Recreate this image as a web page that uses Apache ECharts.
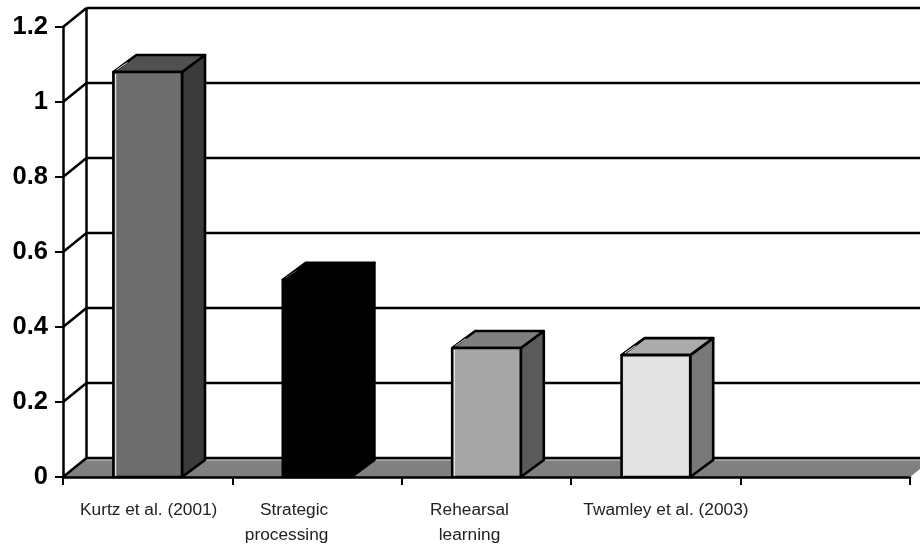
<!DOCTYPE html>
<html><head><meta charset="utf-8">
<style>html,body{margin:0;padding:0;background:#fff}#c{width:920px;height:545px}</style>
<script src="https://cdn.jsdelivr.net/npm/echarts@6/dist/echarts.min.js"></script>
</head><body><div id="c"></div>
<script>
var categories = ['Kurtz et al. (2001)', 'Strategic\nprocessing', 'Rehearsal\nlearning', 'Twamley et al. (2003)', ''];
var values = [1.08, 0.526, 0.344, 0.325, null];
var yTicks = [0, 0.2, 0.4, 0.6, 0.8, 1, 1.2];
var frontColors = ['#6e6e6e', '#000000', '#a6a6a6', '#e3e3e3', '#000'];
var topColors = ['#505050', '#000000', '#7f7f7f', '#ababab', '#000'];
var sideColors = ['#3b3b3b', '#000000', '#5a5a5a', '#787878', '#000'];
var labelPads = [[0,0,0,2], [0,46,0,0], [0,34,0,0], [0,0,0,20], [0,0,0,0]];

var WALL_DX = 23.5, WALL_DY = -19, BAR_DX = 23, BAR_DY = -17, BAR_FRAC = 0.405;
var stroke = {stroke:'#000', lineWidth:2.5, fill:null};

function renderWall(params, api) {
  var v = api.value(1), cs = params.coordSys;
  var y = api.coord([0, v])[1];
  var x0 = cs.x, x1 = cs.x + cs.width, kids = [];
  if (v === 0) {
    kids.push({type:'polygon', shape:{points:[[x0,y],[x1,y],[x1+WALL_DX,y+WALL_DY],[x0+WALL_DX,y+WALL_DY]]}, style:{fill:'#808080'}});
    kids.push({type:'line', shape:{x1:x0+WALL_DX,y1:y+WALL_DY+2,x2:x1+WALL_DX,y2:y+WALL_DY+2}, style:{stroke:'#d0d0d0',lineWidth:1.2}});
    kids.push({type:'line', shape:{x1:x0+WALL_DX,y1:cs.y+WALL_DY,x2:x0+WALL_DX,y2:y+WALL_DY}, style:stroke});
  }
  kids.push({type:'line', shape:{x1:x0+WALL_DX,y1:y+WALL_DY,x2:x1+WALL_DX,y2:y+WALL_DY}, style:stroke});
  kids.push({type:'line', shape:{x1:x0,y1:y,x2:x0+WALL_DX,y2:y+WALL_DY}, style:stroke});
  return {type:'group', children:kids};
}

function renderBar(params, api) {
  var i = api.value(0), v = api.value(1);
  if (v == null || isNaN(v)) return null;
  var top = api.coord([i, v]), base = api.coord([i, 0]);
  var w = api.size([1, 0])[0] * BAR_FRAC;
  var l = top[0] - w/2, r = top[0] + w/2, t = top[1], b = base[1];
  var st = {stroke:'#000', lineWidth:2.6, lineJoin:'round'};
  var hl = frontColors[i] === '#000000' ? '#555' : '#e2e2e2';
  return {type:'group', children:[
    {type:'polygon', shape:{points:[[r,t],[r+BAR_DX,t+BAR_DY],[r+BAR_DX,b+BAR_DY],[r,b]]}, style:Object.assign({fill:sideColors[i]},st)},
    {type:'polygon', shape:{points:[[l,t],[l+BAR_DX,t+BAR_DY],[r+BAR_DX,t+BAR_DY],[r,t]]}, style:Object.assign({fill:topColors[i]},st)},
    {type:'rect', shape:{x:l,y:t,width:w,height:b-t}, style:Object.assign({fill:frontColors[i]},st)},
    {type:'line', shape:{x1:l+2.2,y1:t+2,x2:l+2.2,y2:b-1}, style:{stroke:hl,lineWidth:1.3,opacity:frontColors[i]==='#000000'?0:1}},
    {type:'line', shape:{x1:l+3,y1:t-2,x2:l+14,y2:t-9.5}, style:{stroke:hl,lineWidth:1}}
  ]};
}

var chart = echarts.init(document.getElementById('c'), null, {renderer:'canvas'});
chart.setOption({
  animation:false,
  backgroundColor:'#fff',
  grid:{left:63, top:27, width:847, height:450, containLabel:false, outerBoundsMode:'none'},
  xAxis:{
    type:'category',
    data:categories.map(function(c,i){return {value:c, textStyle:{padding:labelPads[i]}};}),
    boundaryGap:true,
    axisLine:{show:true,lineStyle:{color:'#000',width:2.5}},
    axisTick:{show:true,alignWithLabel:false,length:8,lineStyle:{color:'#000',width:2}},
    axisLabel:{interval:0,margin:21,fontFamily:'Liberation Sans',fontSize:17.3,color:'#222',lineHeight:25,hideOverlap:false,
      formatter:function(v){ return v.replace('\nprocessing','\n{shift|processing}'); },
      rich:{shift:{padding:[0,15,0,0],fontFamily:'Liberation Sans',fontSize:17.3,color:'#222',lineHeight:25}}},
    splitLine:{show:false},
    z:5
  },
  yAxis:{
    type:'value',min:0,max:1.2,interval:0.2,
    axisLine:{show:true,lineStyle:{color:'#000',width:2.5}},
    axisTick:{show:true,length:8,lineStyle:{color:'#000',width:2}},
    axisLabel:{margin:15,fontFamily:'Liberation Sans',fontSize:25.5,fontWeight:'bold',color:'#000',
      formatter:function(v){return String(+v.toFixed(1));}},
    splitLine:{show:false},
    z:5
  },
  series:[
    {type:'custom',name:'walls',renderItem:renderWall,clip:false,silent:true,z:1,
     encode:{x:0,y:1},data:yTicks.map(function(v){return [0,v];})},
    {type:'custom',name:'effect',renderItem:renderBar,clip:false,silent:true,z:3,
     encode:{x:0,y:1},data:values.map(function(v,i){return [i,v];})}
  ]
});
</script></body></html>
